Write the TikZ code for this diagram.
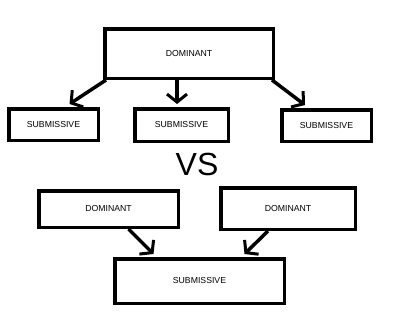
\documentclass[tikz,border=0pt]{standalone}
\usepackage{fontspec}
\setmainfont{Liberation Sans}
\usepackage{tikz}
\usetikzlibrary{positioning, arrows.meta}

\tikzset{
    box/.style={draw, line width=3.5pt, inner sep=0pt, font=\fontsize{8.7}{10}\selectfont},
    arr/.style={line width=3.5pt, -{Straight Barb[length=8pt, width=20pt, line width=3pt]}}
}

\begin{document}
\begin{tikzpicture}[x=1pt, y=-1pt]
    \useasboundingbox (0,0) rectangle (400,332);

    % Top: one dominant
    \node[box, minimum width=168.5pt, minimum height=49.5pt] (dom) at (189,53.5) {DOMINANT};
    \node[box, minimum width=89.5pt, minimum height=31.5pt] (subA) at (53.5,124.5) {SUBMISSIVE};
    \node[box, minimum width=93.5pt, minimum height=32.5pt] (subB) at (181.5,125) {SUBMISSIVE};
    \node[box, minimum width=89.5pt, minimum height=31.5pt] (subC) at (326.5,125.5) {SUBMISSIVE};

    \draw[arr] ([xshift=3pt]dom.south west) -- ([xshift=16pt, yshift=3pt]subA.north);
    \draw[arr] ([xshift=-12pt]dom.south) -- ([xshift=-4.5pt, yshift=3pt]subB.north);
    \draw[arr] ([xshift=-3pt]dom.south east) -- ([xshift=-21.5pt, yshift=3pt]subC.north);

    % VS
    \node[font=\fontsize{32}{34}\selectfont] (vs) at (197,164) {VS};

    % Bottom: two dominant
    \node[box, minimum width=139.5pt, minimum height=36.5pt] (domL) at (108.5,209) {DOMINANT};
    \node[box, minimum width=134.5pt, minimum height=41.5pt] (domR) at (288,208.5) {DOMINANT};
    \node[box, minimum width=169.5pt, minimum height=44.5pt] (sub) at (199.5,281) {SUBMISSIVE};

    \draw[arr] ([xshift=20pt]domL.south) -- ([xshift=-46pt, yshift=3pt]sub.north);
    \draw[arr] ([xshift=-20pt]domR.south) -- ([xshift=45pt, yshift=3pt]sub.north);
\end{tikzpicture}
\end{document}
